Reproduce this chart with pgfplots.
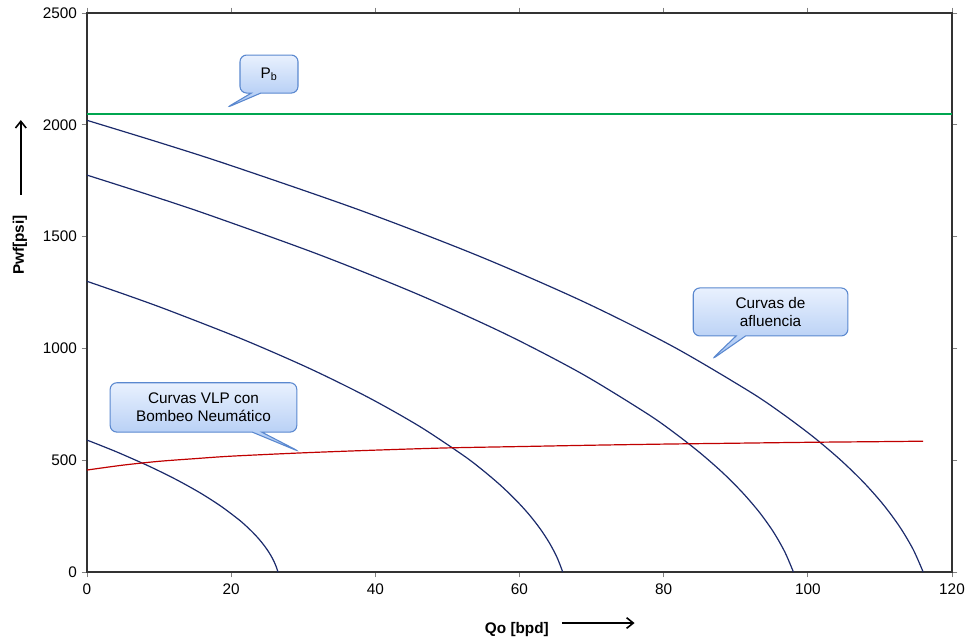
\documentclass[border=0pt]{standalone}
\usepackage{pgfplots}
\pgfplotsset{compat=1.18}
\usepackage{fontspec}
\setmainfont{Liberation Sans}
\usetikzlibrary{shapes.callouts,arrows.meta}
\definecolor{iprblue}{HTML}{1B2A6B}
\definecolor{vlpred}{HTML}{C00000}
\definecolor{pbgreen}{RGB}{0,166,80}
\definecolor{cbord}{HTML}{5A88CF}
\definecolor{ctop}{HTML}{E9F1FE}
\definecolor{cbot}{HTML}{A6C4F2}
\begin{document}
\begin{tikzpicture}[font=\fontsize{11.5}{13.5}\selectfont]
\tikzset{callbox/.style={rectangle callout, rounded corners=5pt, draw=cbord, line width=0.8pt,
  top color=ctop, bottom color=cbot, align=center, inner sep=2pt}}
\begin{axis}[name=ax, scale only axis, width=648.75pt, height=419.25pt,
  xmin=0, xmax=120, ymin=0, ymax=2500,
  xtick={0,20,...,120}, ytick={0,500,...,2500},
  tick align=outside, major tick length=4pt,
  tick style={black!50, line width=0.7pt},
  axis line style={black!80, line width=1.5pt},
  /pgf/number format/assume math mode=true,
  /pgf/number format/1000 sep={},
  scaled ticks=false,
  ticklabel style={font=\fontsize{11.5}{13.5}\selectfont},
  xticklabel style={yshift=-1pt},
  clip=false]
% Bubble point pressure
\addplot[draw=pbgreen, line width=1.5pt, mark=none] coordinates {(0,2050) (60,2050) (120,2050)};
% IPR curves
\addplot[color=iprblue, line width=0.9pt, smooth] coordinates {(0,590) (2.33,560.5) (4.56,531) (8.69,472) (12.40,413) (15.69,354) (18.55,295) (20.99,236) (22.05,206.5) (23.00,177) (23.85,147.5) (24.59,118) (25.23,88.5) (25.76,59) (26.18,29.5) (26.5,0)};
\addplot[color=iprblue, line width=0.9pt, smooth] coordinates {(0,1300) (5.81,1235) (11.35,1170) (21.65,1040) (30.89,910) (39.07,780) (46.2,650) (52.27,520) (54.91,455) (57.29,390) (59.4,325) (61.25,260) (62.83,195) (64.15,130) (65.21,65) (66,0)};
\addplot[color=iprblue, line width=0.9pt, smooth] coordinates {(0,1775) (8.62,1686.25) (16.86,1597.5) (32.14,1420) (45.86,1242.5) (58.02,1065) (68.6,887.5) (77.62,710) (81.54,621.25) (85.06,532.5) (88.2,443.75) (90.94,355) (93.30,266.25) (95.26,177.5) (96.82,88.75) (98,0)};
\addplot[color=iprblue, line width=0.9pt, smooth] coordinates {(0,2020) (10.21,1919) (19.95,1818) (38.05,1616) (54.29,1414) (68.67,1212) (81.2,1010) (91.87,808) (96.51,707) (100.69,606) (104.4,505) (107.65,404) (110.43,303) (112.75,202) (114.61,101) (116,0)};
% VLP curve
\addplot[color=vlpred, line width=0.9pt, smooth] coordinates {(0,456) (5,478) (10,495) (15,507) (20,518) (30,533) (40,545) (50,555) (60,561) (70,567) (80,572) (90,576) (100,580) (110,583) (116,585)};
% callouts
\node[callbox, minimum width=43.5pt, minimum height=28.5pt, callout absolute pointer={(axis cs:19.28,2075)}] at (axis cs:25.25,2227) {P\textsubscript{b}};
\node[callbox, minimum width=140pt, minimum height=37pt, callout absolute pointer={(axis cs:29.55,537)}] at (axis cs:16.16,736) {Curvas VLP con\\Bombeo Neumático};
\node[callbox, minimum width=116pt, minimum height=36pt, callout absolute pointer={(axis cs:86.57,948)}] at (axis cs:94.83,1163) {Curvas de\\afluencia};
% axis labels with arrows
\node[font=\bfseries\fontsize{11.5}{13.5}\selectfont, rotate=90] at (rel axis cs:-0.0775,0.585) {Pwf[psi]};
\draw[-{Straight Barb[length=5pt,width=8pt]}, line width=1.2pt] (rel axis cs:-0.0765,0.6745) -- (rel axis cs:-0.0765,0.8085);
\node[font=\bfseries\fontsize{11.5}{13.5}\selectfont] at (rel axis cs:0.497,-0.1035) {Qo [bpd]};
\draw[-{Straight Barb[length=5pt,width=8pt]}, line width=1.2pt] (rel axis cs:0.549,-0.0913) -- (rel axis cs:0.633,-0.0913);
\end{axis}
\pgfresetboundingbox
\path ([xshift=-65.25pt,yshift=-50.25pt]ax.south west) rectangle ([xshift=9.75pt,yshift=9.75pt]ax.north east);
\end{tikzpicture}
\end{document}
